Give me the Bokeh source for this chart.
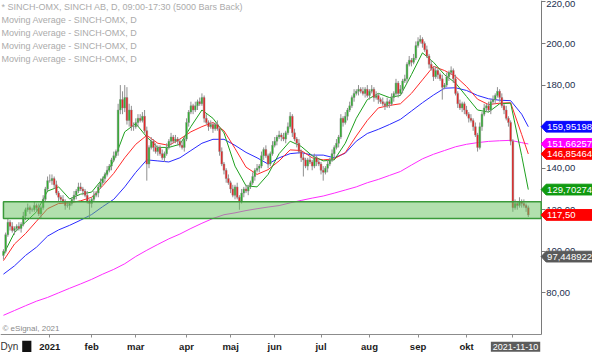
import pandas as pd
from bokeh.plotting import figure
from bokeh.models import (Range1d, FixedTicker, Label, BoxAnnotation, LinearAxis,
                          PolyAnnotation, ColumnDataSource)
from bokeh.embed import file_html
from bokeh.resources import INLINE

# ---------------- data ----------------
holidays = ["2020-12-24", "2020-12-25", "2020-12-31", "2021-01-01", "2021-01-06",
            "2021-04-02", "2021-04-05", "2021-05-13", "2021-06-25"]
first_day, last_day = "2020-11-30", "2021-11-10"
prev_close_start = 98.0

close_nov20 = [100]
close_dec = [108, 114, 112, 110, 111, 112, 111, 113, 117, 120, 121, 120, 120, 122, 121, 118, 121, 125, 130, 134]
close_jan = [134, 135, 132, 128, 126, 125, 124, 122, 122, 123, 125, 127, 129, 131, 130, 129, 127, 124, 123]
close_feb = [125, 127, 128, 131, 133, 135, 137, 139, 141, 144, 146, 148, 168, 173, 169, 174, 163, 168, 160, 160]
close_mar = [162, 164, 163, 165, 158, 142, 150, 153, 150, 148, 150, 147, 145, 147, 150, 153, 155, 153, 154, 153, 151, 150, 154]
close_apr = [162, 167, 170, 168, 170, 172, 171, 174, 164, 162, 160, 161, 159, 161, 159, 148, 142, 139, 135, 133]
close_may = [130, 127, 131, 126, 124, 128, 130, 129, 131, 133, 136, 139, 140, 141, 146, 149, 146, 142, 147, 151]
close_jun = [153, 155, 156, 155, 154, 157, 160, 165, 157, 154, 152, 148, 145, 144, 141, 144, 143, 141, 145, 143, 142]
close_jul = [139, 138, 140, 142, 144, 147, 150, 152, 155, 164, 162, 165, 168, 170, 174, 176, 177, 178, 177, 176, 178, 175]
close_aug = [177, 178, 174, 175, 173, 172, 171, 170, 172, 171, 174, 176, 181, 176, 178, 182, 183, 190, 192, 191, 193, 199]
close_sep = [201, 202, 200, 197, 194, 190, 188, 184, 187, 185, 183, 179, 180, 184, 186, 187, 183, 176, 171, 169, 171, 168]
close_oct = [166, 164, 163, 160, 156, 150, 160, 166, 169, 170, 168, 172, 173, 175, 177, 174, 170, 168, 164, 162, 153]
close_nov = [121, 123, 122, 124, 123, 122, 121, 117.5]

wick_up = ([1, 1, 2, 1, 2, 1, 1, 2, 1, 2, 1, 2, 1, 1, 2, 1, 2, 1, 2, 1, 2] +
           [3, 2, 1, 2, 1, 1, 2, 1, 2, 1, 1, 2, 1, 2, 2, 1, 1, 2, 1] +
           [1, 2, 1, 1, 2, 1, 1, 2, 1, 1, 2, 1, 3, 7, 4, 6, 5, 3, 2, 2] +
           [2, 2, 2, 2, 3, 2, 1, 2, 1, 2, 1, 1, 2, 1, 2, 1, 2, 1, 2, 1, 1, 2, 1] +
           [2, 1, 2, 1, 2, 1, 2, 2, 1, 2, 1, 2, 1, 1, 2, 1, 2, 1, 1, 2] +
           [1, 2, 1, 2, 1, 2, 1, 2, 1, 1, 2, 1, 2, 1, 2, 1, 2, 1, 1, 2] +
           [2, 1, 2, 1, 2, 1, 2, 2, 1, 2, 1, 2, 1, 2, 1, 1, 2, 1, 2, 1, 1] +
           [1, 2, 1, 2, 1, 2, 1, 2, 1, 2, 1, 2, 1, 2, 1, 2, 1, 2, 1, 2, 1, 2] +
           [1, 2, 1, 2, 1, 1, 2, 1, 2, 1, 2, 1, 2, 1, 2, 1, 2, 1, 2, 1, 2, 2] +
           [2, 2, 1, 1, 2, 1, 2, 1, 2, 1, 1, 2, 1, 2, 1, 2, 1, 2, 1, 2, 1, 1] +
           [2, 1, 2, 1, 2, 1, 2, 1, 2, 1, 2, 1, 2, 1, 2, 1, 2, 1, 2, 1, 1] +
           [1, 2, 1, 2, 1, 2, 1, 1])
wick_down = ([2, 1, 1, 2, 1, 2, 1, 1, 2, 1, 2, 1, 2, 1, 1, 2, 1, 2, 1, 1, 1] +
             [1, 2, 2, 1, 2, 1, 1, 2, 1, 2, 1, 1, 2, 1, 1, 2, 1, 1, 7] +
             [2, 1, 1, 2, 1, 1, 2, 1, 1, 2, 1, 1, 2, 2, 3, 2, 2, 3, 2, 2] +
             [1, 2, 1, 1, 1, 8, 2, 1, 2, 1, 2, 1, 1, 2, 1, 1, 2, 1, 1, 2, 1, 1, 2] +
             [1, 2, 1, 2, 1, 2, 1, 1, 2, 1, 2, 1, 2, 1, 1, 2, 1, 2, 2, 1] +
             [2, 1, 2, 1, 4, 1, 2, 1, 2, 1, 1, 2, 1, 2, 1, 2, 1, 2, 1, 1] +
             [1, 2, 1, 2, 1, 2, 1, 1, 2, 1, 2, 1, 2, 8, 1, 2, 1, 2, 1, 2, 1] +
             [2, 4, 1, 2, 1, 1, 2, 1, 2, 1, 2, 1, 2, 1, 1, 2, 1, 2, 1, 1, 2, 1] +
             [2, 1, 2, 1, 2, 1, 1, 2, 1, 2, 1, 2, 1, 2, 1, 2, 1, 2, 1, 2, 1, 1] +
             [1, 1, 2, 1, 1, 2, 1, 2, 1, 2, 1, 6, 1, 1, 2, 1, 2, 1, 2, 1, 2, 2] +
             [1, 2, 1, 2, 1, 2, 1, 2, 1, 2, 1, 2, 1, 2, 1, 2, 1, 2, 1, 2, 2] +
             [2, 1, 2, 1, 2, 1, 2, 1])

# moving averages, read every 5th bar (bar index) plus the last bar
ma_idx = [0, 5, 10, 15, 20, 25, 30, 35, 40, 45, 50, 55, 60, 65, 70, 75, 80, 85, 90, 95,
          100, 105, 110, 115, 120, 125, 130, 135, 140, 145, 150, 155, 160, 165, 170, 175,
          180, 185, 190, 195, 200, 205, 210, 215, 220, 225, 230, 235, 238]
ma_green = [98.5, 109, 114, 119, 129, 131, 125.2, 127.5, 128.5, 135, 143.5, 157.5, 161.5, 155,
            150, 150, 151.5, 160, 168, 164, 157, 141, 131.5, 131, 137, 147, 153, 150.5, 146,
            143.5, 144, 152, 164, 173, 176, 174, 175, 185, 195.5, 191, 185, 181, 174.5, 168,
            167, 171, 171.3, 146, 129.702745]
ma_red = [95.5, 103.5, 108.5, 114.5, 120.5, 123, 123.3, 124.3, 126, 131.5, 137.5, 145, 151.5,
          155.8, 152, 151, 154, 157.5, 160, 162, 158, 149.5, 140.5, 137, 139.3, 143.5, 148.8,
          148.5, 145, 144, 144.5, 147.5, 155.5, 163, 169, 170.2, 171, 176, 182.5, 189, 187,
          184.2, 179.3, 173.2, 170.6, 171.3, 171.5, 156.2, 146.854641]
ma_blue = [89, 93, 98, 102, 107.3, 110.3, 112.5, 115, 117.7, 121.5, 125, 131, 138, 144, 143.5,
           143, 145, 148.5, 152, 153.9, 153.9, 151, 147.6, 145, 142, 145, 147, 147.5, 146.3,
           146.3, 145, 147.2, 153, 156.7, 158.7, 161, 163.5, 167.5, 171.5, 175.2, 178.5, 178.7,
           177.4, 175, 173.4, 172.7, 172.5, 166, 159.951984]
ma_magenta = [69.2, 71.5, 73.8, 76, 77.8, 80, 82.2, 84.3, 86.5, 89, 91.3, 94, 97.5, 100.5,
              103.3, 106, 108.3, 111, 113.5, 115.8, 117.6, 118.5, 119.6, 120.5, 121.3, 122,
              123.3, 124.5, 125.6, 126.6, 128, 129.5, 131, 133, 134.6, 136.5, 138.4, 141.5,
              144.5, 146.7, 148.5, 150.3, 151.5, 152.3, 152.9, 153.2, 153.4, 152.3, 151.662579]
extra_level = 97.448922          # grey value tag on the right scale

zone_low, zone_high, zone_start = 115.8, 123.8, 0   # green support band

y_ticks = [80, 100, 120, 140, 160, 180, 200, 220]
month_labels = ["2021", "feb", "mar", "apr", "maj", "jun", "jul", "aug", "sep", "okt", ""]
date_box_text = "2021-11-10"
legend_lines = ["* SINCH-OMX, SINCH AB, D, 09:00-17:30 (5000 Bars Back)",
                "Moving Average - SINCH-OMX, D", "Moving Average - SINCH-OMX, D",
                "Moving Average - SINCH-OMX, D", "Moving Average - SINCH-OMX, D"]

# ---------------- build table ----------------
closes = (close_nov20 + close_dec + close_jan + close_feb + close_mar + close_apr + close_may +
          close_jun + close_jul + close_aug + close_sep + close_oct + close_nov)
dates = [d for d in pd.bdate_range(first_day, last_day) if d.strftime("%Y-%m-%d") not in holidays]
n = min(len(dates), len(closes), len(wick_up), len(wick_down))
dates, closes = dates[:n], closes[:n]
opens = [prev_close_start] + closes[:n - 1]
highs = [max(o, c) + w for o, c, w in zip(opens, closes, wick_up)]
lows = [min(o, c) - w for o, c, w in zip(opens, closes, wick_down)]
UP, DOWN = "#22b422", "#f01818"
src = ColumnDataSource(dict(
    x=list(range(n)), top=[max(o, c) for o, c in zip(opens, closes)],
    bottom=[min(o, c) for o, c in zip(opens, closes)], high=highs, low=lows,
    color=[UP if c >= o else DOWN for o, c in zip(opens, closes)]))

month_ticks = []
for i in range(1, n):
    if dates[i].month != dates[i - 1].month and dates[i].year == 2021:
        month_ticks.append(i)
overrides = {t: lab for t, lab in zip(month_ticks, month_labels)}

# ---------------- layout geometry (reference is 600x360 px) ----------------
W, H = 592, 352                  # canvas (page minus 8px margin)
SX, SY = W / 600, H / 360        # canvas px per reference px
REF_BAR_PX, REF_BAR0_X = 2.235, 3.0     # reference: bar spacing, first bar position
REF_UNIT_PX, REF_200_Y = 2.125, 44.0    # reference: px per price unit, row of 200,00
REF_AXIS_X, REF_AXIS_Y = 548, 342       # reference: price scale / time scale position

XPX = REF_BAR_PX * SX
X0 = -REF_BAR0_X / REF_BAR_PX
X1 = X0 + W / XPX
AX_X = X0 + REF_AXIS_X / REF_BAR_PX
YPX = REF_UNIT_PX * SY
Y1 = 200 + REF_200_Y / REF_UNIT_PX
Y0 = Y1 - H / YPX
AX_Y = Y1 - REF_AXIS_Y / REF_UNIT_PX
FONT = "Liberation Sans"


def y_ref(ry):
    """price value at a reference pixel row"""
    return Y1 - ry / REF_UNIT_PX


def x_ref(rx):
    """canvas x for a reference pixel column"""
    return rx * SX


p = figure(width=W, height=H, x_range=Range1d(X0, X1), y_range=Range1d(Y0, Y1),
           output_backend="svg", toolbar_location=None,
           x_axis_location=None, y_axis_location=None, min_border=0)
p.outline_line_color = None
p.grid.grid_line_color = None
p.background_fill_color = "white"
p.border_fill_color = "white"

xa = LinearAxis(ticker=FixedTicker(ticks=month_ticks), fixed_location=AX_Y, bounds=(X0, AX_X))
xa.major_label_overrides = overrides
xa.axis_line_color = "#8c8c8c"
xa.major_tick_line_color = "#8c8c8c"
xa.major_tick_in = 0
xa.major_tick_out = 3
xa.minor_tick_line_color = None
xa.major_label_standoff = 3
xa.major_label_text_font = FONT
xa.major_label_text_font_style = "bold"
xa.major_label_text_font_size = "9.5px"
xa.major_label_text_color = "#1a1a1a"
p.add_layout(xa, "below")

ya = LinearAxis(ticker=FixedTicker(ticks=y_ticks), fixed_location=AX_X, bounds=(AX_Y, Y1))
ya.major_label_overrides = {t: f"{t:.2f}".replace(".", ",") for t in y_ticks}
ya.axis_line_color = "#7a7a7a"
ya.major_tick_line_color = "#7a7a7a"
ya.major_tick_in = 0
ya.major_tick_out = 4
ya.minor_tick_line_color = None
ya.major_label_standoff = 1
ya.major_label_text_font = FONT
ya.major_label_text_font_size = "9.5px"
ya.major_label_text_color = "#22304f"
p.add_layout(ya, "right")

# moving averages
p.line(ma_idx, ma_magenta, line_color="#ff2cff", line_width=1)
p.line(ma_idx, ma_blue, line_color="#2a2aff", line_width=1)
p.line(ma_idx, ma_red, line_color="#ff2a2a", line_width=1)
p.line(ma_idx, ma_green, line_color="#1ea01e", line_width=1)

# candles
p.segment(x0="x", y0="low", x1="x", y1="high", source=src, line_color="#8f8f8f", line_width=1)
p.vbar(x="x", width=0.78, top="top", bottom="bottom", fill_color="color",
       line_color="#8a8a8a", line_width=0.5, source=src)

# support band
p.add_layout(BoxAnnotation(left=zone_start, right=AX_X, bottom=zone_low, top=zone_high,
                           fill_color="#65c15d", fill_alpha=0.5,
                           line_color="#3a9a3a", line_width=1.5, line_alpha=1))

# legend texts (top-left)
for k, txt in enumerate(legend_lines):
    p.add_layout(Label(x=x_ref(1), y=y_ref(7 + 13.3 * k), x_units="screen", y_units="data",
                       text=txt, text_font=FONT, text_font_size="9px",
                       text_color="#ababab", text_baseline="middle"))

p.add_layout(Label(x=x_ref(2), y=y_ref(335), x_units="screen", y_units="data",
                   text="\u00a9 eSignal, 2021", text_font=FONT,
                   text_font_size="8px", text_color="#8a8a8a", text_baseline="middle"))

# right-hand value tags
tags = [(ma_blue[-1], "#0a0aff", f"{ma_blue[-1]:.6f}"),
        (ma_magenta[-1], "#ff00ff", f"{ma_magenta[-1]:.6f}"),
        (ma_red[-1], "#ff0000", f"{ma_red[-1]:.6f}"),
        (ma_green[-1], "#109a10", f"{ma_green[-1]:.6f}"),
        (closes[-1], "#ff0000", f"{closes[-1]:.2f}"),
        (extra_level, "#5a5a5a", f"{extra_level:.6f}")]
half = 5.5 / REF_UNIT_PX
tip, body = x_ref(REF_AXIS_X), x_ref(REF_AXIS_X + 5)
for v, col, txt in tags:
    p.add_layout(PolyAnnotation(xs=[tip, body, W, W, body],
                                ys=[v, v + half, v + half, v - half, v - half],
                                xs_units="screen", ys_units="data",
                                fill_color=col, fill_alpha=1, line_color=col, line_alpha=1))
    p.add_layout(Label(x=x_ref(554), y=v, x_units="screen", y_units="data",
                       text=txt.replace(".", ","), text_font=FONT,
                       text_font_size="9.5px", text_color="white", text_baseline="middle"))

# bottom-left and bottom-right boxes
p.add_layout(Label(x=x_ref(0), y=y_ref(354), x_units="screen", y_units="data", text="Dyn",
                   text_font=FONT, text_font_size="10px", text_color="#333333",
                   text_baseline="middle"))
p.add_layout(Label(x=x_ref(22), y=y_ref(354), x_units="screen", y_units="data",
                   text="\u00a0\u00a0\u00a0", text_font=FONT, text_font_size="11px",
                   text_color="#777777", text_baseline="middle", background_fill_color="#111111"))
p.add_layout(Label(x=x_ref(522), y=y_ref(354), x_units="screen", y_units="data",
                   text=date_box_text, text_font=FONT, text_font_size="9px",
                   text_color="white", text_align="center", text_baseline="middle",
                   background_fill_color="#5c5c5c", padding=2))

open("out.html", "w").write(file_html(p, INLINE))
